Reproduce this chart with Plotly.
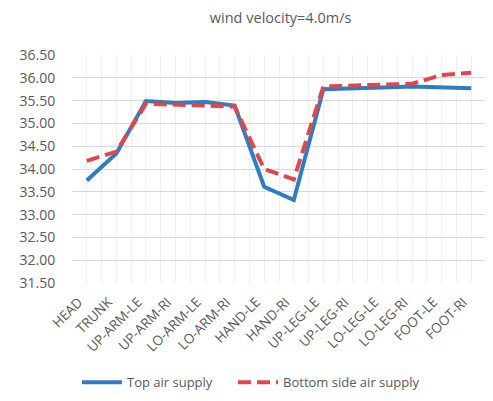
import plotly.graph_objects as go

categories = ["HEAD", "TRUNK", "UP-ARM-LE", "UP-ARM-RI", "LO-ARM-LE", "LO-ARM-RI",
              "HAND-LE", "HAND-RI", "UP-LEG-LE", "UP-LEG-RI", "LO-LEG-LE", "LO-LEG-RI",
              "FOOT-LE", "FOOT-RI"]
top_air = [33.75, 34.34, 35.49, 35.45, 35.47, 35.39, 33.61, 33.32, 35.75, 35.76,
           35.79, 35.81, 35.79, 35.77]
bottom_air = [34.18, 34.38, 35.43, 35.41, 35.38, 35.37, 34.00, 33.77, 35.81, 35.83,
              35.87, 35.87, 36.06, 36.11]
y_ticks = [31.5, 32.0, 32.5, 33.0, 33.5, 34.0, 34.5, 35.0, 35.5, 36.0, 36.5]

xs = list(range(len(categories)))
font_family = "Open Sans, sans-serif"

fig = go.Figure()
fig.add_trace(go.Scatter(x=xs, y=top_air, mode="lines", name="Top air supply",
                         line=dict(color="#2E7DBE", width=4), legend="legend"))
fig.add_trace(go.Scatter(x=xs, y=bottom_air, mode="lines", name="Bottom side air supply",
                         line=dict(color="#E0474C", width=4, dash="13px,6px"), legend="legend2"))

leg_common = dict(orientation="h", xanchor="left", y=-0.436, yanchor="middle",
                  font=dict(size=13, color="#595959"), itemwidth=40,
                  bgcolor="rgba(0,0,0,0)")

fig.update_layout(
    width=493, height=401,
    margin=dict(l=64, r=15, t=47, b=120),
    paper_bgcolor="white", plot_bgcolor="white",
    font=dict(family=font_family, color="#595959", size=12),
    title=dict(text="wind velocity=4.0m/s", x=0.553, xanchor="center", y=0.975, yanchor="middle",
               font=dict(size=14.5, color="#595959", family=font_family)),
    legend=dict(x=0.012, **leg_common),
    legend2=dict(x=0.389, **leg_common),
    showlegend=True,
)
fig.update_xaxes(
    range=[-0.5, len(categories) - 0.5],
    tickmode="array", tickvals=xs, ticktext=categories, tickangle=-45,
    showgrid=True, gridcolor="#F0F0F0", gridwidth=1,
    minor=dict(tickmode="array", tickvals=[i - 0.5 for i in xs] + [len(xs) - 0.5],
               showgrid=True, gridcolor="#F0F0F0", gridwidth=1, ticklen=0),
    zeroline=False, showline=False, ticks="outside", ticklen=5, tickcolor="rgba(0,0,0,0)",
    ticklabelshift=-8,
    tickfont=dict(size=13.5, color="#595959"),
)
fig.update_yaxes(
    range=[31.5, 36.5], tickmode="array", tickvals=y_ticks,
    ticktext=[f"{v:.2f}" for v in y_ticks],
    showgrid=True, gridcolor="#D9D9D9", gridwidth=1,
    zeroline=False, showline=False, ticks="outside", ticklen=13, tickcolor="rgba(0,0,0,0)",
    tickfont=dict(size=14, color="#595959"),
)

fig.write_html("out.html")
